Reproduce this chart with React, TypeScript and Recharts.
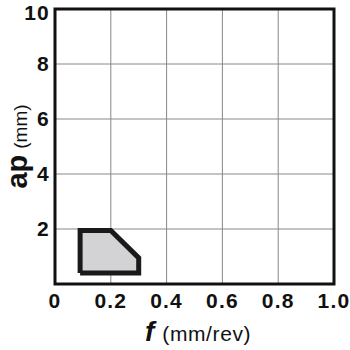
import React from 'react';
import {
  ComposedChart, Area, Line, XAxis, YAxis, CartesianGrid, ReferenceArea,
} from 'recharts';

// ── Data ─────────────────────────────────────────────────────────────────────
const xTicks = [0, 0.2, 0.4, 0.6, 0.8, 1.0];
const yTicks = [0, 2, 4, 6, 8, 10];

// region fill: for each feed, depth range [min, max]
const regionFill = [
  { x: 0.09, range: [0.4, 1.95] },
  { x: 0.2, range: [0.4, 1.95] },
  { x: 0.3, range: [0.4, 0.95] },
];

// outline of the region, closed
const regionOutline = [
  { x: 0.09, y: 0.4 },
  { x: 0.09, y: 1.95 },
  { x: 0.2, y: 1.95 },
  { x: 0.3, y: 0.95 },
  { x: 0.3, y: 0.4 },
  { x: 0.09, y: 0.4 },
];

const FONT = '"Liberation Sans", Arial, sans-serif';

function YLabel({ viewBox }: any) {
  const cy = viewBox.y + viewBox.height / 2;
  const x = 27;
  return (
    <text x={x} y={cy} transform={`rotate(-90 ${x} ${cy})`} textAnchor="middle"
      fontFamily={FONT} fill="#111">
      <tspan fontSize={29} fontWeight="bold">ap</tspan>
      <tspan fontSize={19} dx={6}>(mm)</tspan>
    </text>
  );
}

function XLabel() {
  return (
    <text x={145} y={341} textAnchor="start" fontFamily={FONT} fill="#111">
      <tspan fontSize={28} fontWeight="bold" fontStyle="italic">f</tspan>
      <tspan fontSize={21} dx={8} letterSpacing={0.6}>(mm/rev)</tspan>
    </text>
  );
}

const tickStyle = { fontSize: 21, fontWeight: 'bold', fill: '#111', fontFamily: FONT, letterSpacing: 1.2 };

export default function App() {
  return (
    <div style={{ position: 'absolute', left: 0, top: 0, background: '#fff' }}>
      <ComposedChart width={350} height={350} margin={{ top: 9, right: 16, left: 0, bottom: 0 }}>
        <CartesianGrid stroke="#888" strokeWidth={1} />
        <XAxis
          type="number" dataKey="x" domain={[0, 1]} ticks={xTicks} height={66}
          tickFormatter={(v: number) => (v === 0 ? '0' : v.toFixed(1))}
          axisLine={false} tickLine={false} tickSize={0} tick={tickStyle} tickMargin={9}
          label={<XLabel />}
        />
        <YAxis
          type="number" domain={[0, 10]} ticks={yTicks} width={55}
          tickFormatter={(v: number) => (v === 0 ? '' : String(v))}
          axisLine={false} tickLine={false} tickSize={0} tick={tickStyle} tickMargin={5}
          label={<YLabel />}
        />
        <Area
          data={regionFill} dataKey="range" type="linear"
          fill="#d3d3d5" fillOpacity={1} stroke="none" isAnimationActive={false}
        />
        <Line
          data={regionOutline} dataKey="y" type="linear"
          stroke="#1a1a1a" strokeWidth={5} strokeLinejoin="miter" dot={false}
          activeDot={false} isAnimationActive={false}
        />
        <ReferenceArea x1={0} x2={1} y1={0} y2={10} fill="none" stroke="#111" strokeWidth={3} ifOverflow="visible" />
      </ComposedChart>
    </div>
  );
}
